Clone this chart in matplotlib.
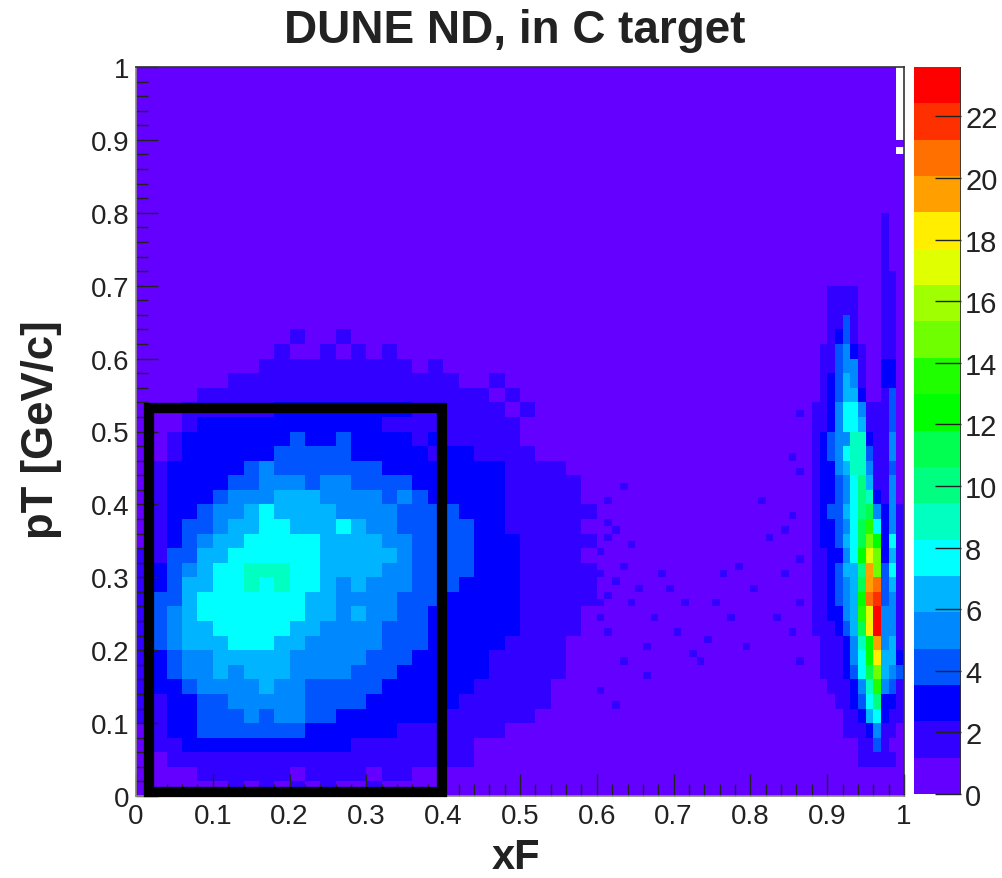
import numpy as np
import matplotlib
matplotlib.use('Agg')
import matplotlib.pyplot as plt
from matplotlib.colors import ListedColormap, BoundaryNorm
from matplotlib.patches import Rectangle

plt.rcParams['font.family'] = ['Liberation Sans', 'DejaVu Sans']

# palette steps, bottom to top of the color bar
palette = ['#6400ff', '#3200ff', '#0000ff', '#0055ff', '#0088ff', '#00b4ff', '#00ffff',
           '#00ffc0', '#00ff80', '#00ff50', '#00ff00', '#20ff00', '#70ff00', '#a0ff00',
           '#e0ff00', '#ffee00', '#ffa000', '#ff7000', '#ff3000', '#ff0000']
z_max = 23.6

# big blob: palette step per cell (base 20), 2 bins x 2 bins, top row is pT = 0.66
blob_levels = [
    "000000000000000000000000000000",
    "000000000000000000000000000000",
    "000000000010010000000000000000",
    "000000000100101010000000000000",
    "000000001111111111010000000000",
    "000000111111111111111001000000",
    "000011111111111111111110100000",
    "000111111222222222111111010000",
    "000122222222222211111111100000",
    "001222222232232222121111100000",
    "001222222333332222212211110000",
    "012222234333333322222222111100",
    "012222334443443333222222111110",
    "012223444555444434322222111110",
    "012234456555544443333222111111",
    "012334556655565443333322111110",
    "012345566666555544333322211111",
    "113355666666555554333322211110",
    "123456677766555544333322211111",
    "123556676766545444333222211111",
    "133566666665544443332222211111",
    "134566666665545443322222211110",
    "134556666655444433322222211110",
    "134555666554444433322222111100",
    "123445555544444333222221111100",
    "123445455544443332222221111100",
    "122344445443333322222211111000",
    "112233444443333222222111111000",
    "112233343443322222221111110000",
    "012233333332222221111111000000",
    "011222222222221111111100000000",
    "001111111111111111111100000000",
    "000011111101111011000000000000",
    "000000101010100100000000000000",
]

# ridge near xF = 1: xF bins 87-99, 2 bins tall, top row is bin 78
ridge_levels = [
    "0000000000100",
    "0000000000100",
    "0000000000100",
    "0000000000100",
    "0000000000110",
    "0001111000110",
    "0001111000110",
    "0001131000110",
    "0001231000110",
    "0011342100110",
    "0011344100220",
    "0012354100220",
    "0012355200130",
    "0112466411130",
    "0112466511130",
    "0123447721140",
    "0123467731140",
    "0122457741130",
    "0122346851140",
    "0122346872140",
    "0123356894241",
    "01223469b6241",
    "01223569ca261",
    "0112246aec251",
    "01123558gc361",
    "01123459gh351",
    "0112345ahi341",
    "0112245bej441",
    "01112359fj441",
    "00111247ag451",
    "00111246af552",
    "001112369c543",
    "000111247b431",
    "0000112368221",
    "0000011256211",
    "0000011124110",
    "0000000113100",
    "0000000111110",
    "0000000000000",
    "0000000000000",
]

# loose single bins of the second palette step between the two structures
loose_x = [60, 61, 62, 63, 64, 65, 66, 67, 68, 70, 71, 72, 74, 75, 77, 78, 80, 82, 83, 84, 85, 85, 86, 86, 86,
           60, 62, 64, 61, 63, 66, 69, 73, 76, 79, 81, 84, 85, 86, 86, 60, 61, 60, 62, 61, 63, 60, 61]
loose_y = [30, 22, 36, 18, 26, 28, 20, 24, 30, 22, 26, 19, 21, 26, 24, 31, 28, 35, 24, 30, 22, 38, 26, 32, 44,
           14, 12, 34, 40, 42, 16, 28, 18, 30, 20, 40, 36, 46, 52, 18, 26, 27, 33, 29, 35, 31, 24, 37]

# empty bins (drawn white) in the last xF column
empty_y = [88, 90, 91, 92, 93, 94, 95, 96, 97, 98, 99]

x_ticks = [0, 0.1, 0.2, 0.3, 0.4, 0.5, 0.6, 0.7, 0.8, 0.9, 1]
y_ticks = [0, 0.1, 0.2, 0.3, 0.4, 0.5, 0.6, 0.7, 0.8, 0.9, 1]
tick_labels = ['0', '0.1', '0.2', '0.3', '0.4', '0.5', '0.6', '0.7', '0.8', '0.9', '1']
bar_ticks = [0, 2, 4, 6, 8, 10, 12, 14, 16, 18, 20, 22]

levels = np.zeros((100, 100))
for i, row in enumerate(blob_levels):
    r = 66 - 2 * i
    for j, c in enumerate(row):
        levels[r:r + 2, 2 * j:2 * j + 2] = int(c, 20)
for i, row in enumerate(ridge_levels):
    r = 78 - 2 * i
    for j, c in enumerate(row):
        levels[r:r + 2, 87 + j] = int(c, 20)
for bx, by in zip(loose_x, loose_y):
    levels[by, bx] = 1

dz = z_max / len(palette)
counts = (levels + 0.5) * dz
counts[empty_y, 99] = np.nan

cmap = ListedColormap(palette)
cmap.set_bad('white')
norm = BoundaryNorm(np.arange(len(palette) + 1) * dz, len(palette))

W, H = 1002, 879
fig = plt.figure(figsize=(W / 100, H / 100), dpi=100)
ax = fig.add_axes([136 / W, (H - 797) / H, 768 / W, 729 / H])
edges = np.linspace(0, 1, 101)
mesh = ax.pcolormesh(edges, edges, counts, cmap=cmap, norm=norm)
ax.set_xlim(0, 1)
ax.set_ylim(0, 1)

# selection box
ax.add_patch(Rectangle((0.017, 0.006), 0.381, 0.526, fill=False, ec='black', lw=7.4,
                       joinstyle='miter', clip_on=False, zorder=5))

ax.set_xticks(x_ticks)
ax.set_xticklabels(tick_labels)
ax.set_yticks(y_ticks)
ax.set_yticklabels(tick_labels)
ax.set_xticks(np.arange(0, 1.001, 0.02), minor=True)
ax.set_yticks(np.arange(0, 1.001, 0.02), minor=True)
ax.tick_params(which='major', direction='in', length=16, width=1, color='#222222',
               labelsize=20, labelcolor='#222222')
ax.tick_params(which='minor', direction='in', length=8.5, width=1, color='#222222')
ax.tick_params(axis='x', which='major', pad=5)
ax.tick_params(axis='y', which='major', pad=5)
for s in ['left', 'bottom']:
    ax.spines[s].set_color('#8a8a80')
    ax.spines[s].set_linewidth(1.2)
for s in ['right', 'top']:
    ax.spines[s].set_color('#333333')
    ax.spines[s].set_linewidth(1.2)

fig.text(515 / W, 1 - 31 / H, 'DUNE ND, in C target', fontsize=33, fontweight='bold',
         color='#222222', ha='center', va='center')
fig.text(516 / W, 1 - 858 / H, 'xF', fontsize=30, fontweight='bold', color='#222222',
         ha='center', va='center')
fig.text(42 / W, 1 - 430 / H, 'pT [GeV/c]', fontsize=31.5, fontweight='bold', color='#222222',
         rotation=90, ha='center', va='center')

# color bar
cax = fig.add_axes([914 / W, (H - 795) / H, 47 / W, 727 / H])
cb = fig.colorbar(mesh, cax=cax, spacing='proportional', drawedges=False)
cb.set_ticks(bar_ticks)
cb.set_ticklabels([str(t) for t in bar_ticks])
cb.minorticks_off()
cax.tick_params(direction='in', length=19, width=1, color='#222222', labelsize=21,
                labelcolor='#222222', pad=3)
cb.outline.set_visible(False)
cax.axvline(1, color='#333333', lw=2)

fig.savefig('out.png', dpi=100)
